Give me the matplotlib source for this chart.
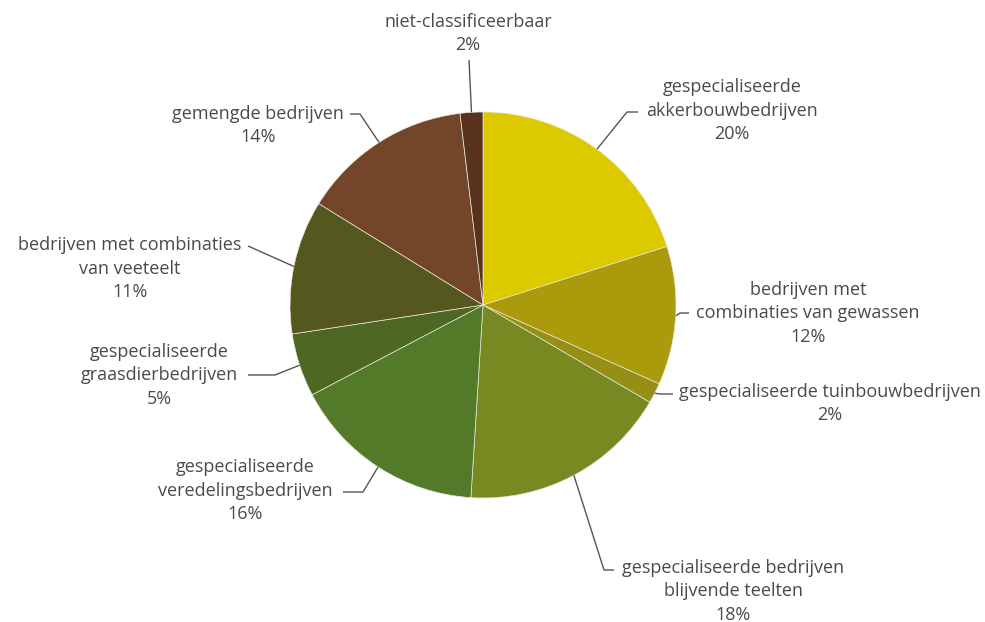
import numpy as np
import matplotlib
matplotlib.use('Agg')
import matplotlib.pyplot as plt

# aandeel bedrijven per type (%)
categorieen = ['gespecialiseerde\nakkerbouwbedrijven',
               'bedrijven met\ncombinaties van gewassen',
               'gespecialiseerde tuinbouwbedrijven',
               'gespecialiseerde bedrijven\nblijvende teelten',
               'gespecialiseerde\nveredelingsbedrijven',
               'gespecialiseerde\ngraasdierbedrijven',
               'bedrijven met combinaties\nvan veeteelt',
               'gemengde bedrijven',
               'niet-classificeerbaar']
aandeel = [20.1, 11.6, 1.7, 17.6, 16.3, 5.3, 11.2, 14.3, 1.9]
kleuren = ['#DDC900', '#AA9A0C', '#958F16', '#788922', '#527A28',
           '#4E6823', '#55581E', '#744629', '#59321D']

W, H = 985, 622
cx, cy, r = 483, H - 305, 193

fig = plt.figure(figsize=(W / 100, H / 100), dpi=100)
ax = fig.add_axes([0, 0, 1, 1])
wedges, _ = ax.pie(aandeel, colors=kleuren, startangle=90, counterclock=False,
                   center=(cx, cy), radius=r,
                   wedgeprops=dict(edgecolor='#e8e8d8', linewidth=0.5))
ax.set_xlim(0, W)
ax.set_ylim(0, H)
ax.set_aspect('equal')
ax.axis('off')

# label layout: tekst x, y eerste regel, knik x, knik y, eind x
layout = [
    (732, 88, 627, 112, 638),
    (808, 291, 680, 313, 689),
    (830, 392, 660, 394, 673),
    (733, 569, 604, 570, 614),
    (245, 468, 363, 492, 343),
    (159, 353, 275, 375, 248),
    (130, 246, 248, 246, 248),
    (258, 114, 360, 114, 350),
    (468, 22, 469, 60, 469),
]

regel = 22.5
tekstkleur = '#4a4a4a'
lijnkleur = '#555555'
for w, cat, v, (tx, ty, kx, ky, ex) in zip(wedges, categorieen, aandeel, layout):
    mid = np.deg2rad((w.theta1 + w.theta2) / 2)
    px = cx + r * np.cos(mid)
    py = cy + r * np.sin(mid)
    ax.plot([px, kx, ex], [py, H - ky, H - ky], color=lijnkleur, lw=1,
            solid_capstyle='butt')
    tekst = cat + '\n' + f'{round(v)}%'
    n = tekst.count('\n')
    ax.text(tx, H - (ty + n * regel / 2), tekst, ha='center', va='center',
            fontsize=13, family='Open Sans', color=tekstkleur, linespacing=1.36)

fig.savefig('out.png', dpi=100)
